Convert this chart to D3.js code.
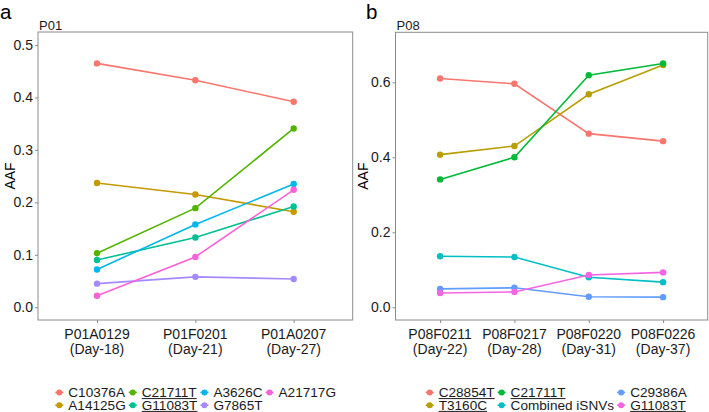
<!DOCTYPE html>
<html>
<head>
<meta charset="utf-8">
<script src="https://cdn.jsdelivr.net/npm/d3@7"></script>
<style>
  html, body { margin: 0; padding: 0; background: #fff; }
  svg { display: block; font-family: "Liberation Sans", Arial, sans-serif; }
</style>
</head>
<body>
<svg id="chart" width="709" height="412"></svg>
<script>
// ---- panel a (P01) ----
const samplesA = ["P01A0129", "P01F0201", "P01A0207"];
const daysA = ["(Day-18)", "(Day-21)", "(Day-27)"];
const mutationsA = ["C10376A", "A14125G", "C21711T", "G11083T", "A3626C", "G7865T", "A21717G"];
const colorsA = ["#F8766D", "#C49A00", "#53B400", "#00C094", "#00B6EB", "#A58AFF", "#FB61D7"];
const underlinedA = ["C21711T", "G11083T"];
const C10376A = [0.465, 0.433, 0.392];
const A14125G = [0.237, 0.215, 0.182];
const C21711T_a = [0.103, 0.189, 0.341];
const G11083T_a = [0.090, 0.133, 0.192];
const A3626C = [0.072, 0.158, 0.235];
const G7865T = [0.045, 0.058, 0.054];
const A21717G = [0.022, 0.096, 0.224];
const valuesA = [C10376A, A14125G, C21711T_a, G11083T_a, A3626C, G7865T, A21717G];
const ticksA = [0.0, 0.1, 0.2, 0.3, 0.4, 0.5];

// ---- panel b (P08) ----
const samplesB = ["P08F0211", "P08F0217", "P08F0220", "P08F0226"];
const daysB = ["(Day-22)", "(Day-28)", "(Day-31)", "(Day-37)"];
const mutationsB = ["C28854T", "T3160C", "C21711T", "Combined iSNVs", "C29386A", "G11083T"];
const colorsB = ["#F8766D", "#B79F00", "#00BA38", "#00BFC4", "#619CFF", "#F564E3"];
const underlinedB = ["C28854T", "T3160C", "C21711T", "G11083T"];
const C28854T = [0.610, 0.596, 0.463, 0.443];
const T3160C = [0.407, 0.430, 0.568, 0.646];
const C21711T_b = [0.341, 0.400, 0.619, 0.650];
const combined = [0.136, 0.134, 0.080, 0.067];
const C29386A = [0.049, 0.052, 0.028, 0.027];
const G11083T_b = [0.038, 0.041, 0.086, 0.093];
const valuesB = [C28854T, T3160C, C21711T_b, combined, C29386A, G11083T_b];
const ticksB = [0.0, 0.2, 0.4, 0.6];

const FS = 14;    // axis text size
const LFS = 13.6; // legend text size
const svg = d3.select("#chart");

function panel(opt) {
  const g = svg.append("g");
  const x = d3.scalePoint().domain(opt.samples).range([opt.left, opt.right]).padding(0.6);
  const y = d3.scaleLinear().domain(opt.yDomain).range([opt.bottom, opt.top]);

  // panel letter + title
  g.append("text").attr("x", opt.letterX).attr("y", 19)
    .attr("font-size", 20.5).attr("fill", "#000").text(opt.letter);
  g.append("text").attr("x", opt.left + 1).attr("y", 30)
    .attr("font-size", 13).attr("fill", "#1a1a1a").text(opt.title);

  // border
  g.append("rect")
    .attr("x", opt.left).attr("y", opt.top)
    .attr("width", opt.right - opt.left).attr("height", opt.bottom - opt.top)
    .attr("fill", "none").attr("stroke", "#8c8c8c").attr("stroke-width", 1);

  // y axis
  const yAxis = g.append("g").attr("transform", `translate(${opt.left},0)`)
    .call(d3.axisLeft(y).tickValues(opt.ticks).tickFormat(d3.format(".1f")).tickSize(3).tickPadding(2));
  yAxis.select(".domain").remove();
  yAxis.selectAll("line").attr("stroke", "#8c8c8c");
  yAxis.selectAll("text").attr("font-size", FS).attr("fill", "#1a1a1a").attr("font-family", null);

  // x axis
  const xAxis = g.append("g").attr("transform", `translate(0,${opt.bottom})`)
    .call(d3.axisBottom(x).tickSize(3).tickFormat(""));
  xAxis.select(".domain").remove();
  xAxis.selectAll("line").attr("stroke", "#8c8c8c");
  opt.samples.forEach((s, i) => {
    const t = g.append("text").attr("x", x(s)).attr("text-anchor", "middle")
      .attr("font-size", FS).attr("fill", "#1a1a1a");
    t.append("tspan").attr("x", x(s)).attr("y", opt.bottom + 19).text(s);
    t.append("tspan").attr("x", x(s)).attr("y", opt.bottom + 34).text(opt.days[i]);
  });

  // y title
  g.append("text")
    .attr("transform", `translate(${opt.yTitleX},${(opt.top + opt.bottom) / 2}) rotate(-90)`)
    .attr("text-anchor", "middle").attr("font-size", FS).attr("fill", "#000").text("AAF");

  // lines then points
  const series = opt.names.map((n, i) => ({ name: n, color: opt.colors[i], vals: opt.values[i] }));
  const line = d3.line().x((d, i) => x(opt.samples[i])).y(d => y(d));
  g.selectAll("path.series").data(series).enter().append("path")
    .attr("class", "series")
    .attr("d", d => line(d.vals))
    .attr("fill", "none").attr("stroke", d => d.color).attr("stroke-width", 1.6);
  series.forEach(s => {
    g.selectAll(null).data(s.vals).enter().append("circle")
      .attr("cx", (d, i) => x(opt.samples[i])).attr("cy", d => y(d))
      .attr("r", 3.2).attr("fill", s.color);
  });

  // legend: 2 rows, filled by column (row values are text baselines)
  const rows = [opt.legendY, opt.legendY + 12.8];
  let kx = opt.legendX;
  const ncol = Math.ceil(series.length / 2);
  for (let c = 0; c < ncol; c++) {
    let maxW = 0;
    for (let r = 0; r < 2; r++) {
      const s = series[c * 2 + r];
      if (!s) continue;
      const base = rows[r];
      const cy = base - 4.6;
      g.append("line").attr("x1", kx - 4).attr("x2", kx + 4).attr("y1", cy).attr("y2", cy)
        .attr("stroke", s.color).attr("stroke-width", 1.6);
      g.append("circle").attr("cx", kx).attr("cy", cy).attr("r", 3).attr("fill", s.color);
      const t = g.append("text").attr("x", kx + 9).attr("y", base)
        .attr("font-size", LFS).attr("fill", "#1a1a1a").text(s.name);
      const w = t.node().getComputedTextLength();
      if (opt.underlined.includes(s.name)) {
        g.append("line").attr("x1", kx + 9).attr("x2", kx + 9 + w)
          .attr("y1", base + 1.6).attr("y2", base + 1.6)
          .attr("stroke", "#1a1a1a").attr("stroke-width", 1);
      }
      maxW = Math.max(maxW, w);
    }
    kx += 9 + maxW + 7;
  }
}

panel({
  letter: "a", letterX: 0, title: "P01",
  left: 38, right: 352.7, top: 32, bottom: 320,
  yDomain: [-0.0243, 0.5249], ticks: ticksA,
  samples: samplesA, days: daysA, names: mutationsA, colors: colorsA,
  values: valuesA, underlined: underlinedA, yTitleX: 15,
  legendX: 59.3, legendY: 397
});

panel({
  letter: "b", letterX: 366, title: "P08",
  left: 395.5, right: 707.7, top: 32.3, bottom: 320,
  yDomain: [-0.0339, 0.7333], ticks: ticksB,
  samples: samplesB, days: daysB, names: mutationsB, colors: colorsB,
  values: valuesB, underlined: underlinedB, yTitleX: 368,
  legendX: 429.7, legendY: 397
});
</script>
</body>
</html>
